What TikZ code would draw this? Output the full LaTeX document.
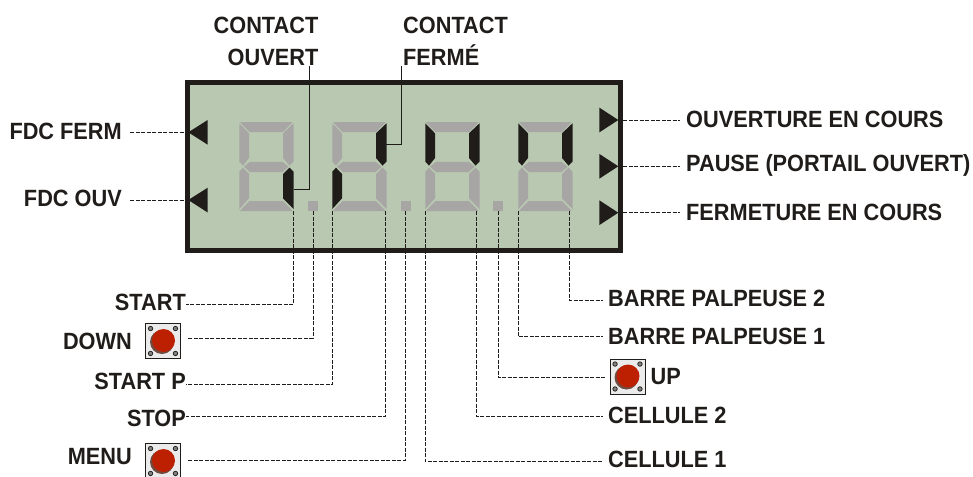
\documentclass[tikz,border=0pt]{standalone}
\usepackage{fontspec}
\usepackage{xcolor}
\usepackage{tikz}
\usetikzlibrary{positioning}
\setmainfont[FakeStretch=0.925]{Liberation Sans}
\definecolor{lcdgreen}{HTML}{B9C9B1}
\definecolor{seggray}{HTML}{A8A5A5}
\definecolor{inkdark}{HTML}{1F1C1A}
\definecolor{btnred}{HTML}{BC2000}
\definecolor{btnshade}{HTML}{6E4A42}
\newcommand{\tagfont}{\fontsize{23.5}{32}\bfseries\selectfont}

\begin{document}
\begin{tikzpicture}[
    x=1pt, y=-1pt,
    tag/.style={inner sep=0pt, text=inkdark, font=\tagfont},
    lead/.style={draw=inkdark, line width=0.9pt, dash pattern=on 4pt off 1.5pt},
    wire/.style={draw=inkdark, line width=1pt},
    lcd/.style={rectangle, draw=inkdark, fill=lcdgreen, line width=5pt, minimum width=433pt, minimum height=168pt, inner sep=0pt},
    segoff/.style={fill=seggray},
    segon/.style={fill=inkdark},
    mark tri/.style={fill=inkdark},
    button/.style={rectangle, draw=inkdark, fill=white!92!black, line width=0.9pt, minimum size=35pt, inner sep=0pt},
    pin/.style={circle, draw=inkdark, fill=gray, line width=0.7pt, minimum size=4.5pt, inner sep=0pt},
]
    \useasboundingbox (0,0) rectangle (973,476);
    \node[lcd] (display) at (404,166.5) {};
    % digits: x offset, then the state of each segment (a b c d e f g)
    \foreach \dx/\sa/\sb/\sc/\sd/\se/\sf/\sg in {
        239/segoff/segoff/segon/segoff/segoff/segoff/segoff,
        332/segoff/segon/segoff/segoff/segon/segoff/segoff,
        425/segoff/segon/segoff/segoff/segoff/segon/segoff,
        518/segoff/segon/segoff/segoff/segoff/segon/segoff}
    {
        \begin{scope}[shift={(\dx,122)}]
            \fill[\sa] (0.8,0) -- (53.7,0) -- (44,10) -- (10.5,10) -- cycle;
            \fill[\sb] (54.5,1.3) -- (44,11.3) -- (44,36) -- (50.5,43.6) -- (54.5,39.6) -- cycle;
            \fill[\sc] (54.5,87) -- (44,76.3) -- (44,52) -- (44,52) -- (50.5,45.7) -- (54.5,49.7) -- cycle;
            \fill[\sd] (0.8,89) -- (53.7,89) -- (44,79) -- (10.5,79) -- cycle;
            \fill[\se] (0.3,87) -- (10,76.3) -- (10,52) -- (4,45.7) -- (0.3,49.7) -- cycle;
            \fill[\sf] (0.3,1.3) -- (10,11.3) -- (10,36) -- (4,43.6) -- (0.3,39.6) -- cycle;
            \fill[\sg] (5,44.7) -- (11,39.8) -- (43.5,39.8) -- (49.5,44.7) -- (43.5,50) -- (11,50) -- cycle;
        \end{scope}
    }
    \node[fill=seggray, minimum size=10pt, inner sep=0pt] (dot1) at (313,206) {};
    \node[fill=seggray, minimum size=10pt, inner sep=0pt] (dot2) at (405.5,206) {};
    \node[fill=seggray, minimum size=10pt, inner sep=0pt] (dot3) at (498,206) {};
    \fill[mark tri] (188.3,132.3) -- (207.7,120) -- (207.7,144.7) -- cycle;
    \fill[mark tri] (188.3,200) -- (207.7,187.7) -- (207.7,212.5) -- cycle;
    \foreach \ty in {120,166.3,212.7}
        \fill[mark tri] (618.3,\ty) -- (599.3,\ty-12.4) -- (599.3,\ty+12.4) -- cycle;
    % free ends on the digits
    \coordinate (segc1) at (294,189);
    \coordinate (segb2) at (386,144);
    \coordinate (seg1r) at (293.5,211);
    \coordinate (seg2l) at (332.7,211);
    \coordinate (seg2r) at (385.7,211);
    \coordinate (seg3l) at (425.3,211);
    \coordinate (seg3r) at (476.7,211);
    \coordinate (seg4l) at (518,211);
    \coordinate (seg4r) at (569,211);
    \node[tag, anchor=south east, align=right] (ouvert) at (318.5,66) {CONTACT\\OUVERT};
    \node[tag, anchor=south west, align=left] (ferme) at (403,66) {CONTACT\\FERMÉ};
    \node[tag, anchor=east] (fdcferm) at (122,131) {FDC FERM};
    \node[tag, anchor=east] (fdcouv) at (122,198) {FDC OUV};
    \node[tag, anchor=west] (opening) at (686,119) {OUVERTURE EN COURS};
    \node[tag, anchor=west] (pause) at (686,165) {PAUSE (PORTAIL OUVERT)};
    \node[tag, anchor=west] (closing) at (686,212) {FERMETURE EN COURS};
    \node[tag, anchor=east] (start) at (186,302) {START};
    \node[tag, anchor=east] (startp) at (186,381) {START P};
    \node[tag, anchor=east] (stop) at (186,418) {STOP};
    \node[button] (downbtn) at (163,341) {};
    \node[button] (menubtn) at (163,461) {};
    \node[button] (upbtn) at (627.5,376.5) {};
    \foreach \btn in {downbtn,menubtn,upbtn}
    {
        \node[pin] at ([shift={(5.5,5.5)}]\btn.north west) {};
        \node[pin] at ([shift={(-5.5,5.5)}]\btn.north east) {};
        \node[pin] at ([shift={(5.5,-5.5)}]\btn.south west) {};
        \node[pin] at ([shift={(-5.5,-5.5)}]\btn.south east) {};
        \fill[btnshade] ([shift={(-1,1)}]\btn.center) circle (12pt);
        \fill[btnred] ([shift={(0.5,-0.5)}]\btn.center) circle (11.5pt);
    }
    \node[tag, left=13pt of downbtn] (down) {DOWN};
    \node[tag, anchor=east] (menu) at (132,457) {MENU};
    \node[tag, right=5pt of upbtn] (up) {UP};
    \node[tag, anchor=west] (barre2) at (608,298) {BARRE PALPEUSE 2};
    \node[tag, anchor=west] (barre1) at (608,336) {BARRE PALPEUSE 1};
    \node[tag, anchor=west] (cell2) at (608,415) {CELLULE 2};
    \node[tag, anchor=west] (cell1) at (608,459) {CELLULE 1};
    \draw[wire] (segc1) -| (309,66);
    \draw[wire] (segb2) -| (401.3,66);
    \draw[lead] (fdcferm.east) ++(8,1) -- (display.west |- 0,132);
    \draw[lead] (fdcouv.east) ++(8,2) -- (display.west |- 0,200);
    \draw[lead] (display.east |- 0,120) -- ([xshift=-6pt]opening.west |- 0,120);
    \draw[lead] (display.east |- 0,166.3) -- ([xshift=-6pt]pause.west |- 0,166.3);
    \draw[lead] (display.east |- 0,212.7) -- ([xshift=-6pt]closing.west |- 0,212.7);
    \draw[lead] (seg1r) |- (start.east |- 0,304);
    \draw[lead] (dot1.south) |- ([xshift=7pt]downbtn.east |- 0,338);
    \draw[lead] (seg2l) |- (startp.east |- 0,384);
    \draw[lead] (seg2r) |- (stop.east |- 0,416);
    \draw[lead] (dot2.south) |- ([xshift=7pt]menubtn.east |- 0,460);
    \draw[lead] (seg3l) |- ([xshift=-5pt]cell1.west |- 0,461.7);
    \draw[lead] (seg3r) |- ([xshift=-5pt]cell2.west |- 0,416.7);
    \draw[lead] (dot3.south) |- ([xshift=-5pt]upbtn.west |- 0,377.7);
    \draw[lead] (seg4l) |- ([xshift=-5pt]barre1.west |- 0,336.7);
    \draw[lead] (seg4r) |- ([xshift=-5pt]barre2.west |- 0,300);
\end{tikzpicture}
\end{document}
